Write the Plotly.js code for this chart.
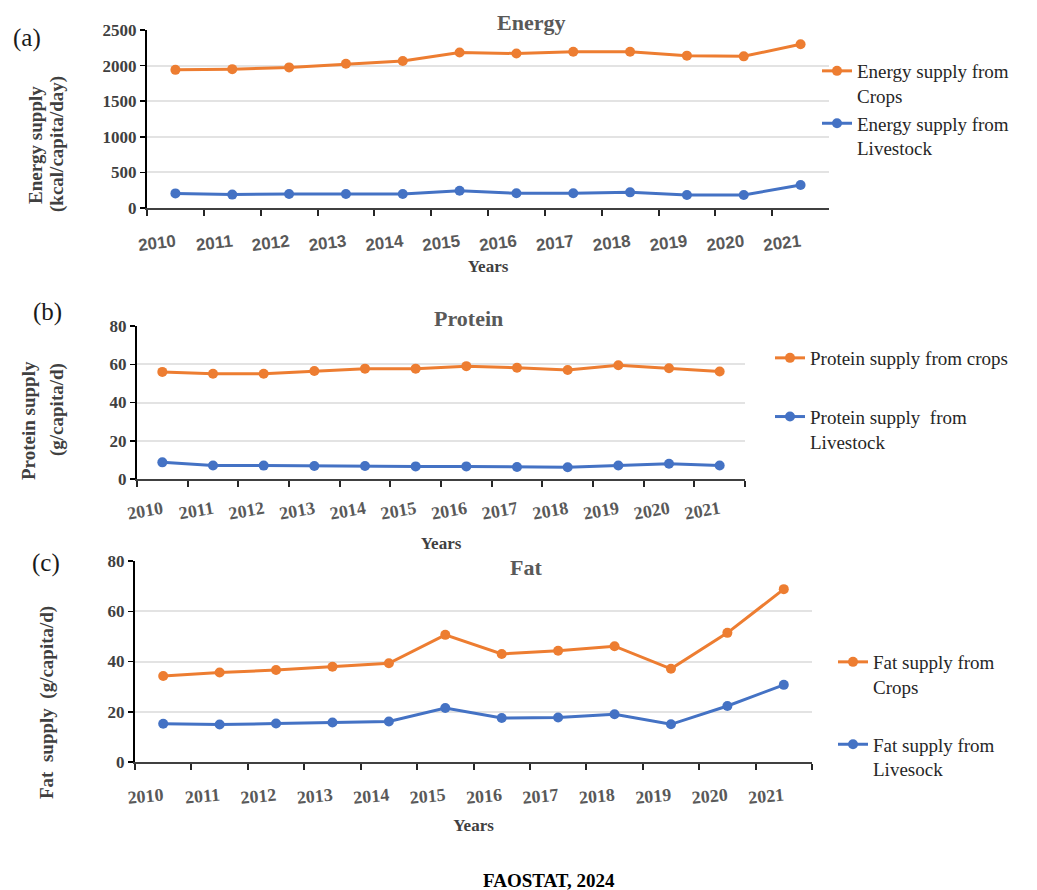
<!DOCTYPE html>
<html><head><meta charset="utf-8">
<script src="https://cdn.plot.ly/plotly-3.0.1.min.js"></script>
<style>html,body{margin:0;padding:0;background:#fff;} #chart{width:1037px;height:890px;}</style>
</head><body><div id="chart"></div>
<script>
// ---- data ----
const years = ['2010','2011','2012','2013','2014','2015','2016','2017','2018','2019','2020','2021'];
const energyCrops     = [1940,1950,1975,2025,2065,2185,2170,2195,2195,2140,2130,2300];
const energyLivestock = [205,188,197,197,197,243,206,206,220,183,183,323];
const proteinCrops     = [56,55,55,56.5,57.7,57.7,59,58.2,57,59.5,57.9,56.2];
const proteinLivestock = [8.7,7.1,7,6.8,6.8,6.6,6.6,6.3,6.1,7.1,8,7.1];
const fatCrops     = [34.2,35.6,36.6,37.9,39.3,50.6,43,44.3,46.1,37.1,51.4,68.8];
const fatLivestock = [15.2,14.9,15.3,15.7,16.1,21.5,17.5,17.7,19,15,22.3,30.7];
const seriesNames = {
  ec: 'Energy supply from<br>Crops', el: 'Energy supply from<br>Livestock',
  pc: 'Protein supply from crops', pl: 'Protein supply  from<br>Livestock',
  fc: 'Fat supply from<br>Crops', fl: 'Fat supply from<br>Livesock'
};

// ---- layout helpers ----
const W = 1037, H = 890;
const px = v => v / W, py = v => 1 - v / H;
const serif = 'Liberation Serif, Times New Roman, serif';
const sans = 'Liberation Sans, Arial, sans-serif';
const ORANGE = '#ED7D31', BLUE = '#4472C4';

function trace(y, name, color, xa, ya, leg, grp) {
  return {x: years, y: y, name: name, type: 'scatter', mode: 'lines+markers',
    xaxis: xa, yaxis: ya, legend: leg, legendgroup: grp,
    line: {color: color, width: 3}, marker: {color: color, size: 10, symbol: 'circle'}};
}
const data = [
  trace(energyCrops, seriesNames.ec, ORANGE, 'x', 'y', 'legend', 'a1'),
  trace(energyLivestock, seriesNames.el, BLUE, 'x', 'y', 'legend', 'a2'),
  trace(proteinCrops, seriesNames.pc, ORANGE, 'x2', 'y2', 'legend2', 'b1'),
  trace(proteinLivestock, seriesNames.pl, BLUE, 'x2', 'y2', 'legend2', 'b2'),
  trace(fatCrops, seriesNames.fc, ORANGE, 'x3', 'y3', 'legend3', 'c1'),
  trace(fatLivestock, seriesNames.fl, BLUE, 'x3', 'y3', 'legend3', 'c2')
];

function xax(dom, anchor, font, angle, labStand, standoff) {
  return {domain: dom, anchor: anchor, type: 'category', range: [-0.5, 11.5],
    tickson: 'boundaries', ticks: 'outside', ticklen: 6, tickwidth: 2, tickcolor: '#262626',
    showline: true, linecolor: '#404040', linewidth: 2, showgrid: false, zeroline: false,
    tickangle: angle, tickfont: font, ticklabelstandoff: labStand, fixedrange: true,
    title: {text: 'Years', standoff: standoff, font: {family: serif, size: 17, weight: 'bold', color: '#404040'}}};
}
function yax(dom, anchor, range, dtick, font) {
  return {domain: dom, anchor: anchor, range: range, dtick: dtick, ticks: 'outside', ticklen: 5,
    tickwidth: 1.5, tickcolor: '#000', showline: true, linecolor: '#000', linewidth: 2,
    showgrid: true, gridcolor: '#e3e3e3', gridwidth: 2, zeroline: false, tickfont: font, fixedrange: true};
}
const yTickFont = {family: serif, size: 17, weight: 'bold', color: '#404040'};
const legFont = {family: serif, size: 19, color: '#262626'};
function leg(xp, yp, gap) {
  return {x: px(xp), y: py(yp), xanchor: 'left', yanchor: 'top', font: legFont,
    bgcolor: 'rgba(0,0,0,0)', tracegroupgap: gap, valign: 'top', itemwidth: 30};
}
function ann(text, x, y, font, angle) {
  return {text: text, x: px(x), y: py(y), xref: 'paper', yref: 'paper', showarrow: false,
    xanchor: 'center', yanchor: 'middle', font: font, textangle: angle || 0};
}
const titleFont = {family: serif, size: 22, weight: 'bold', color: '#595959'};
const ytFont = {family: serif, size: 19, weight: 'bold', color: '#404040'};
const panelFont = {family: serif, size: 25, color: '#1a1a1a'};

const layout = {
  width: W, height: H, margin: {l: 0, r: 0, t: 0, b: 0},
  paper_bgcolor: '#fff', plot_bgcolor: '#fff', showlegend: true,
  xaxis: xax([px(147), px(829)], 'y', {family: sans, size: 17, weight: 'bold', color: '#595959'}, -7, 16, 6),
  yaxis: yax([py(208), py(30)], 'x', [0, 2500], 500, yTickFont),
  xaxis2: xax([px(137), px(745)], 'y2', {family: serif, size: 18, weight: 'bold', color: '#595959'}, -10, 11, 14),
  yaxis2: yax([py(479), py(326)], 'x2', [0, 80], 20, yTickFont),
  xaxis3: xax([px(135), px(812)], 'y3', {family: serif, size: 18, weight: 'bold', color: '#595959'}, -5, 15, 12),
  yaxis3: yax([py(762), py(561)], 'x3', [0, 80], 20, yTickFont),
  legend: leg(817, 52, 0),
  legend2: leg(770, 339, 31),
  legend3: leg(833, 643, 30),
  annotations: [
    ann('(a)', 27, 38, panelFont), ann('(b)', 47, 312, panelFont), ann('(c)', 46, 563, panelFont),
    ann('Energy', 531, 22, titleFont), ann('Protein', 468, 318, titleFont), ann('Fat', 526, 567, titleFont),
    ann('Energy supply', 35, 145, ytFont, -90), ann('(kcal/capita/day)', 57, 144, ytFont, -90),
    ann('Protein supply', 28, 421, ytFont, -90), ann('(g/capita/d)', 57, 410, ytFont, -90),
    ann('Fat  supply  (g/capita/d)', 47, 703, ytFont, -90),
    ann('FAOSTAT, 2024', 549, 880, {family: serif, size: 19, weight: 'bold', color: '#000'})
  ]
};
Plotly.newPlot('chart', data, layout, {displayModeBar: false, staticPlot: true});
</script></body></html>
